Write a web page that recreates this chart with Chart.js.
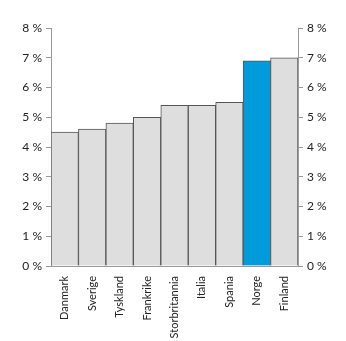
<!DOCTYPE html>
<html>
<head>
	<meta charset="UTF-8">
	<title>Norge</title>
	<style>
		html, body { margin: 0; padding: 0; background: #fff; }
		#wrap { width: 346px; height: 341px; }
	</style>
	<script src="https://cdn.jsdelivr.net/npm/chart.js@4/dist/chart.umd.min.js"></script>
</head>
<body>
	<div id="wrap"><canvas id="canvas" width="346" height="341"></canvas></div>
	<script>
		var countries = ['Danmark', 'Sverige', 'Tyskland', 'Frankrike', 'Storbritannia', 'Italia', 'Spania', 'Norge', 'Finland'];
		var values = [4.5, 4.6, 4.8, 5.0, 5.4, 5.4, 5.5, 6.9, 7.0];
		var highlight = 'Norge';

		var grey = '#dedede', blue = '#009bdb';
		var fills = countries.map(function(c){ return c == highlight ? blue : grey; });
		var fmt = function(v){ return v + ' %'; };
		var font = { family: 'Lato, sans-serif', size: 12 };
		var xfont = { family: 'Lato, sans-serif', size: 11 };

		var yAxis = function(pos, w){
			return {
				position: pos,
				min: 0, max: 8,
				ticks: { stepSize: 1, callback: fmt, color: '#222', font: font, padding: 4 },
				grid: { drawOnChartArea: false, tickLength: 5, color: '#999' },
				border: { color: '#999' },
				afterFit: function(s){ s.width = w; }
			};
		};

		new Chart(document.getElementById('canvas').getContext('2d'), {
			type: 'bar',
			data: {
				labels: countries,
				datasets: [{
					data: values,
					backgroundColor: fills,
					borderColor: '#555',
					borderWidth: 1,
					barPercentage: 1,
					categoryPercentage: 1
				}]
			},
			options: {
				responsive: false,
				animation: false,
				layout: { padding: { top: 28, left: 0, right: 0, bottom: 0 } },
				plugins: { legend: { display: false }, tooltip: { enabled: false } },
				scales: {
					x: {
						ticks: { minRotation: 90, maxRotation: 90, color: '#222', font: xfont, padding: 2 },
						grid: { display: false },
						border: { color: '#999' },
						afterFit: function(s){ s.height = 75; }
					},
					y: yAxis('left', 51),
					y2: yAxis('right', 48)
				}
			}
		});
	</script>
</body>
</html>
